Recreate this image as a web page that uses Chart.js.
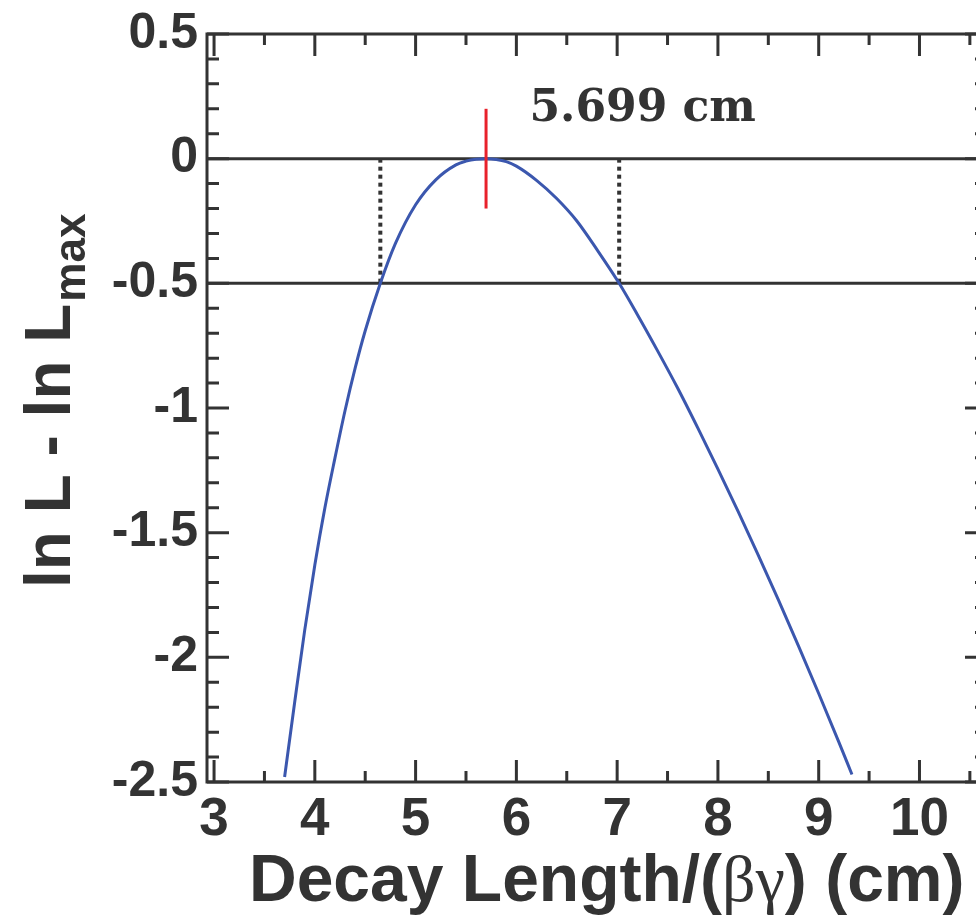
<!DOCTYPE html>
<html>
<head>
<meta charset="utf-8">
<script src="https://cdn.jsdelivr.net/npm/chart.js@4/dist/chart.umd.min.js"></script>
<style>
  html, body { margin: 0; padding: 0; background: #fff; overflow: hidden; }
  #wrap { width: 976px; height: 923px; overflow: hidden; }
</style>
</head>
<body>
<div id="wrap"><canvas id="chart" width="990" height="923"></canvas></div>
<script>
// likelihood scan
const decayLength = [3.70, 3.80, 3.90, 4.00, 4.10, 4.20, 4.30, 4.40, 4.50, 4.65, 4.80, 5.00, 5.20, 5.40, 5.50, 5.60, 5.70,
                     5.80, 5.90, 6.00, 6.20, 6.40, 6.60, 6.80, 7.02, 7.20, 7.40, 7.60, 7.80, 8.00, 8.20, 8.40, 8.60, 8.80,
                     9.00, 9.20, 9.33];
const deltaLnL = [-2.48, -2.18, -1.89, -1.63, -1.40, -1.20, -1.01, -0.84, -0.69, -0.50, -0.34, -0.185, -0.085, -0.025, -0.01, -0.002, 0,
                  -0.003, -0.012, -0.03, -0.087, -0.16, -0.25, -0.365, -0.50, -0.625, -0.77, -0.92, -1.08, -1.245, -1.415, -1.59, -1.77, -1.955,
                  -2.145, -2.34, -2.47];

const peakValue = 5.699;
const peakMark = [-0.2, 0.2];
const errorEdges = [4.65, 7.02];
const refLevels = [0, -0.5];

const xTicks = [3, 4, 5, 6, 7, 8, 9, 10];
const xMinor = [3.5, 4.5, 5.5, 6.5, 7.5, 8.5, 9.5, 10.5];
const yTicks = [0.5, 0, -0.5, -1, -1.5, -2, -2.5];
const yMinor = [];
for (let i = 5; i >= -25; i--) yMinor.push(i / 10);

const xRange = [2.93, 10.67];
const yRange = [-2.5, 0.5];

const ink = '#333333';

const datasets = [
  {
    data: peakMark.map(v => ({ x: peakValue, y: v })),
    borderColor: '#e8212b', borderWidth: 3, pointRadius: 0
  },
  {
    data: decayLength.map((x, i) => ({ x: x, y: deltaLnL[i] })),
    borderColor: '#3b57ae', borderWidth: 3, pointRadius: 0,
    cubicInterpolationMode: 'monotone'
  }
];
errorEdges.forEach(x => datasets.push({
  data: refLevels.map(v => ({ x: x, y: v })),
  borderColor: ink, borderWidth: 4, borderDash: [4, 4], pointRadius: 0
}));
refLevels.forEach(v => datasets.push({
  data: xRange.map(x => ({ x: x, y: v })),
  borderColor: ink, borderWidth: 3, pointRadius: 0
}));

const frame = {
  id: 'frame',
  afterDraw(chart) {
    const { ctx, chartArea: a, scales: { x, y } } = chart;
    ctx.save();
    ctx.strokeStyle = ink;
    ctx.lineWidth = 3;
    ctx.beginPath();
    xTicks.forEach(v => {
      const px = x.getPixelForValue(v);
      ctx.moveTo(px, a.bottom); ctx.lineTo(px, a.bottom - 22);
      ctx.moveTo(px, a.top); ctx.lineTo(px, a.top + 22);
    });
    xMinor.forEach(v => {
      const px = x.getPixelForValue(v);
      ctx.moveTo(px, a.bottom); ctx.lineTo(px, a.bottom - 11);
      ctx.moveTo(px, a.top); ctx.lineTo(px, a.top + 11);
    });
    yMinor.forEach(v => {
      const py = y.getPixelForValue(v);
      const len = Math.abs(v * 2 - Math.round(v * 2)) < 1e-6 ? 22 : 12;
      ctx.moveTo(a.left, py); ctx.lineTo(a.left + len, py);
      ctx.moveTo(a.right, py); ctx.lineTo(a.right - len, py);
    });
    ctx.stroke();
    ctx.strokeRect(a.left, a.top, a.right - a.left, a.bottom - a.top);

    // value label
    ctx.fillStyle = ink;
    ctx.font = 'bold 44px "DejaVu Serif"';
    ctx.textBaseline = 'alphabetic';
    ctx.textAlign = 'left';
    ctx.fillText('5.699 cm', x.getPixelForValue(6.13), y.getPixelForValue(0.15));

    // x title
    const parts = [
      ['Decay Length/(', 'bold 66px "Liberation Sans"'],
      ['\u03b2\u03b3', '66px "Liberation Serif"'],
      [') (cm)', 'bold 66px "Liberation Sans"']
    ];
    let tx = 249;
    parts.forEach(([t, f]) => {
      ctx.font = f;
      ctx.fillText(t, tx, 901);
      tx += ctx.measureText(t).width;
    });

    // y title
    ctx.translate(70, 588);
    ctx.rotate(-Math.PI / 2);
    ctx.font = 'bold 64px "Liberation Sans"';
    ctx.fillText('ln L - ln L', 0, 0);
    const w = ctx.measureText('ln L - ln L').width;
    ctx.font = 'bold 44px "Liberation Sans"';
    ctx.fillText('max', w + 2, 15);
    ctx.restore();
  }
};

new Chart(document.getElementById('chart'), {
  type: 'line',
  data: { datasets: datasets },
  options: {
    responsive: false,
    animation: false,
    layout: { padding: { top: 32, right: 3, left: 0, bottom: 0 } },
    plugins: { legend: { display: false }, tooltip: { enabled: false } },
    scales: {
      x: {
        type: 'linear', min: xRange[0], max: xRange[1],
        afterBuildTicks: s => { s.ticks = xTicks.map(v => ({ value: v })); },
        afterFit: s => { s.height = 141; },
        grid: { display: false, drawTicks: false },
        border: { display: false },
        ticks: { color: ink, padding: 12, maxRotation: 0, font: { family: 'Liberation Sans', weight: 'bold', size: 53, lineHeight: 1 } }
      },
      y: {
        type: 'linear', min: yRange[0], max: yRange[1],
        afterBuildTicks: s => { s.ticks = yTicks.map(v => ({ value: v })); },
        afterFit: s => { s.width = 207; },
        grid: { display: false, drawTicks: false },
        border: { display: false },
        ticks: { color: ink, padding: 9, callback: v => String(v), font: { family: 'Liberation Sans', weight: 'bold', size: 50, lineHeight: 1 } }
      }
    }
  },
  plugins: [frame]
});
</script>
</body>
</html>
